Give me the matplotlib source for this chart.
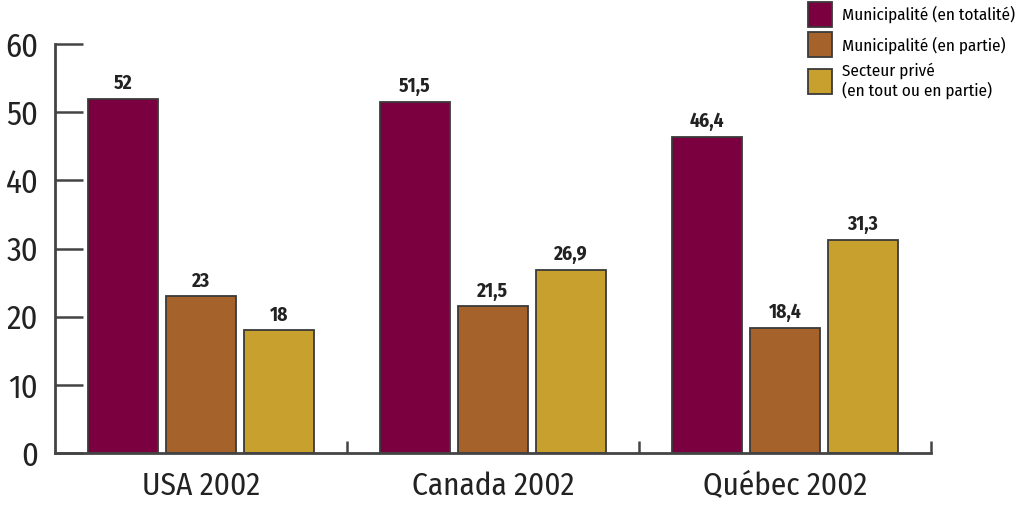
import matplotlib.pyplot as plt
import numpy as np

plt.rcParams['font.family'] = ['Fira Sans Condensed', 'Asap Condensed', 'DejaVu Sans']

# données
groupes = ['USA 2002', 'Canada 2002', 'Québec 2002']
series = ['Municipalité (en totalité)', 'Municipalité (en partie)',
          'Secteur privé\n(en tout ou en partie)']
mun_totalite = [52, 51.5, 46.4]
mun_partie = [23, 21.5, 18.4]
prive = [18, 26.9, 31.3]
etiquettes = [['52', '51,5', '46,4'], ['23', '21,5', '18,4'], ['18', '26,9', '31,3']]
couleurs = ['#7a0040', '#a5622a', '#c8a02e']

fig = plt.figure(figsize=(10.26, 5.05), dpi=100)
ax = fig.add_axes([55/1026, 52/505, 876/1026, 409/505])

x = np.arange(len(groupes))
larg = 0.24
pas = 0.267
barres = []
for i, vals in enumerate([mun_totalite, mun_partie, prive]):
    b = ax.bar(x + (i - 1) * pas, vals, larg, color=couleurs[i],
               edgecolor='#3a3a3a', linewidth=1.3, label=series[i])
    barres.append(b)
    for xi, v, t in zip(x + (i - 1) * pas, vals, etiquettes[i]):
        ax.text(xi, v + 0.8, t, ha='center', va='bottom', fontsize=14,
                fontweight='bold', color='#222222')

ax.set_xlim(-0.5, 2.5)
ax.set_ylim(0, 60)
ax.set_yticks(range(0, 61, 10))
ax.set_xticks(x)
ax.set_xticklabels(groupes)
ax.set_xticks([0.5, 1.5, 2.5], minor=True)
ax.tick_params(axis='x', which='major', length=0, labelsize=22.5, pad=13, colors='#222222')
ax.tick_params(axis='x', which='minor', direction='in', length=9, width=1.8, color='#444444')
ax.tick_params(axis='y', direction='in', length=20, width=1.8, color='#444444',
               labelsize=23.5, pad=12, labelcolor='#222222')
for s in ['top', 'right']:
    ax.spines[s].set_visible(False)
for s in ['left', 'bottom']:
    ax.spines[s].set_linewidth(2)
    ax.spines[s].set_color('#444444')

fig.legend(handles=barres, loc='upper left', bbox_to_anchor=(806/1026, 1.0),
           frameon=False, fontsize=12.3, handlelength=1.45, handleheight=1.9,
           handletextpad=0.55, labelspacing=0.3, borderpad=0.1, borderaxespad=0)

fig.savefig('out.png', dpi=100)
